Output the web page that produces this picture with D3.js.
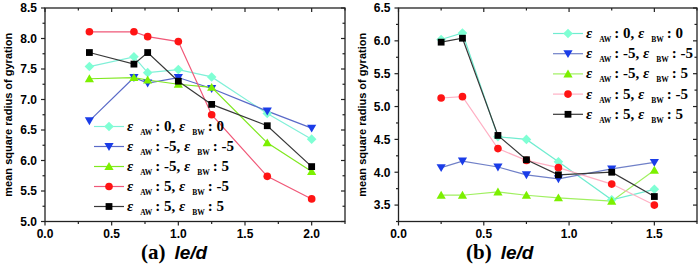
<!DOCTYPE html>
<html>
<head>
<meta charset="utf-8">
<script src="https://cdn.jsdelivr.net/npm/d3@7"></script>
<style>
  body { margin: 0; background: #fff; }
  svg { display: block; }
</style>
</head>
<body>
<svg id="chart" width="700" height="264"></svg>
<script>
// ---- data ----
const seriesNames = [
  ["0", "0"],
  ["-5", "-5"],
  ["-5", "5"],
  ["5", "-5"],
  ["5", "5"]
];
const xA = [0.333, 0.667, 0.77, 1.0, 1.25, 1.667, 2.0];
const cyanA  = [7.54, 7.70, 7.44, 7.49, 7.37, 6.77, 6.35];
const blueA  = [6.65, 7.36, 7.27, 7.36, 7.18, 6.81, 6.53];
const greenA = [7.34, 7.36, 7.32, 7.25, 7.20, 6.29, 5.82];
const redA   = [8.11, 8.11, 8.03, 7.95, 6.75, 5.74, 5.37];
const blackA = [7.77, 7.58, 7.77, 7.30, 6.92, 6.57, 5.90];

const xB = [0.25, 0.375, 0.583, 0.75, 0.9375, 1.25, 1.5];
const cyanB  = [6.02, 6.12, 4.54, 4.50, 4.16, 3.58, 3.74];
const blueB  = [4.07, 4.17, 4.08, 3.96, 3.90, 4.05, 4.15];
const greenB = [3.65, 3.65, 3.70, 3.65, 3.61, 3.56, 4.03];
const redB   = [5.13, 5.15, 4.36, 4.18, 4.07, 3.82, 3.50];
const blackB = [5.98, 6.04, 4.56, 4.19, 3.96, 4.00, 3.63];

const xTicksA = [0.0, 0.5, 1.0, 1.5, 2.0];
const yTicksA = [5.0, 5.5, 6.0, 6.5, 7.0, 7.5, 8.0, 8.5];
const xTicksB = [0.0, 0.5, 1.0, 1.5];
const yTicksB = [3.5, 4.0, 4.5, 5.0, 5.5, 6.0, 6.5];

const markers = ["diamond", "down", "up", "circle", "square"];
const markerFill = ["#7fffd4", "#1a3ce8", "#7cf000", "#ff1414", "#000000"];
const lineColA = ["#80f0d8", "#5a6ac8", "#80e820", "#f05878", "#383838"];
const lineColB = ["#70ecd0", "#7080c8", "#a0f060", "#ffb0c4", "#383838"];

const svg = d3.select("#chart");

function markerPath(type) {
  if (type === "diamond") return "M0,-4.8L4.8,0L0,4.8L-4.8,0Z";
  if (type === "down") return "M-4.6,-3.5L4.6,-3.5L0,4.4Z";
  if (type === "up") return "M-4.6,3.5L4.6,3.5L0,-4.4Z";
  if (type === "square") return "M-3.4,-3.4L3.4,-3.4L3.4,3.4L-3.4,3.4Z";
  return d3.symbol().type(d3.symbolCircle).size(46)();
}

function panel(cfg) {
  const x = d3.scaleLinear().domain(cfg.xDomain).range([cfg.left, cfg.right]);
  const y = d3.scaleLinear().domain(cfg.yDomain).range([cfg.bottom, cfg.top]);
  const g = svg.append("g");

  const minorX = d3.range(cfg.xDomain[0], cfg.xDomain[1] + 0.001, 0.25);
  const minorY = d3.range(cfg.yDomain[0], cfg.yDomain[1] + 0.001, 0.25);
  const isMajor = (v, list) => list.some(t => Math.abs(t - v) < 1e-6);

  // frame
  g.append("rect")
    .attr("x", cfg.left).attr("y", cfg.top)
    .attr("width", cfg.right - cfg.left).attr("height", cfg.bottom - cfg.top)
    .attr("fill", "none").attr("stroke", "#222").attr("stroke-width", 1.3);

  // ticks
  minorX.forEach(v => {
    const L = isMajor(v, cfg.xTicks) ? 4 : 2.5;
    g.append("line").attr("x1", x(v)).attr("x2", x(v))
      .attr("y1", cfg.bottom).attr("y2", cfg.bottom + L)
      .attr("stroke", "#222").attr("stroke-width", 1.2);
    g.append("line").attr("x1", x(v)).attr("x2", x(v))
      .attr("y1", cfg.top).attr("y2", cfg.top + L)
      .attr("stroke", "#222").attr("stroke-width", 1.2);
  });
  minorY.forEach(v => {
    const L = isMajor(v, cfg.yTicks) ? 4 : 2.5;
    g.append("line").attr("y1", y(v)).attr("y2", y(v))
      .attr("x1", cfg.left).attr("x2", cfg.left - L)
      .attr("stroke", "#222").attr("stroke-width", 1.2);
    g.append("line").attr("y1", y(v)).attr("y2", y(v))
      .attr("x1", cfg.right).attr("x2", cfg.right - L)
      .attr("stroke", "#222").attr("stroke-width", 1.2);
  });

  // tick labels
  g.selectAll(".xl").data(cfg.xTicks).enter().append("text")
    .attr("x", d => x(d)).attr("y", cfg.bottom + 16)
    .attr("text-anchor", "middle")
    .attr("font-family", "Liberation Sans, Arial, sans-serif")
    .attr("font-weight", "bold").attr("font-size", 12)
    .text(d => d.toFixed(1));
  g.selectAll(".yl").data(cfg.yTicks).enter().append("text")
    .attr("x", cfg.left - 8).attr("y", d => y(d) + 4.3)
    .attr("text-anchor", "end")
    .attr("font-family", "Liberation Sans, Arial, sans-serif")
    .attr("font-weight", "bold").attr("font-size", 12)
    .text(d => d.toFixed(1));

  // y title
  g.append("text")
    .attr("transform", `translate(${cfg.left - 33},${(cfg.top + cfg.bottom) / 2}) rotate(-90)`)
    .attr("text-anchor", "middle")
    .attr("font-family", "Liberation Sans, Arial, sans-serif")
    .attr("font-weight", "bold").attr("font-size", 11)
    .text("mean square radius of gyration");

  // x title
  const xt = g.append("text")
    .attr("x", cfg.titleX).attr("y", 259);
  xt.append("tspan")
    .attr("font-family", "Liberation Serif, Times New Roman, serif")
    .attr("font-weight", "bold").attr("font-size", 21)
    .text(cfg.label);
  xt.append("tspan").attr("dx", 9)
    .attr("font-family", "Liberation Sans, Arial, sans-serif")
    .attr("font-style", "italic").attr("font-weight", "bold").attr("font-size", 19)
    .text("le/d");

  // series
  const line = d3.line().x(d => x(d[0])).y(d => y(d[1]));
  cfg.series.forEach((vals, i) => {
    const pts = cfg.xs.map((xv, j) => [xv, vals[j]]);
    g.append("path").datum(pts)
      .attr("fill", "none").attr("stroke", cfg.lineCols[i]).attr("stroke-width", 1.2)
      .attr("d", line);
  });
  cfg.series.forEach((vals, i) => {
    const pts = cfg.xs.map((xv, j) => [xv, vals[j]]);
    g.selectAll(null).data(pts).enter().append("path")
      .attr("transform", d => `translate(${x(d[0])},${y(d[1])})`)
      .attr("d", markerPath(markers[i]))
      .attr("fill", markerFill[i]);
  });

  // legend
  seriesNames.forEach((nm, i) => {
    const ly = cfg.legY + i * cfg.legStep;
    const lx = cfg.legX;
    g.append("line").attr("x1", lx).attr("x2", lx + 30)
      .attr("y1", ly).attr("y2", ly)
      .attr("stroke", cfg.lineCols[i]).attr("stroke-width", 1.2);
    g.append("path").attr("transform", `translate(${lx + 15},${ly})`)
      .attr("d", markerPath(markers[i])).attr("fill", markerFill[i]);
    const t = g.append("text").attr("x", lx + 33).attr("y", ly + 4.5)
      .attr("font-family", "Liberation Serif, Times New Roman, serif")
      .attr("font-weight", "bold").attr("font-size", 15);
    t.append("tspan").attr("font-style", "italic").text("ε");
    t.append("tspan").attr("dx", 7).attr("dy", 4).attr("font-size", 7.5).text("AW");
    t.append("tspan").attr("dx", 3).attr("dy", -4).text(": " + nm[0] + ", ");
    t.append("tspan").attr("font-style", "italic").text("ε");
    t.append("tspan").attr("dx", 7).attr("dy", 4).attr("font-size", 7.5).text("BW");
    t.append("tspan").attr("dx", 3).attr("dy", -4).text(": " + nm[1]);
  });
}

panel({
  left: 45, right: 345, top: 8, bottom: 221.5,
  xDomain: [0, 2.25], yDomain: [5.0, 8.5],
  xTicks: xTicksA, yTicks: yTicksA,
  xs: xA, series: [cyanA, blueA, greenA, redA, blackA],
  lineCols: lineColA,
  legX: 94, legY: 126.5, legStep: 20,
  label: "(a)", titleX: 141
});

panel({
  left: 398.5, right: 697, top: 8, bottom: 221.5,
  xDomain: [0, 1.75], yDomain: [3.25, 6.5],
  xTicks: xTicksB, yTicks: yTicksB,
  xs: xB, series: [cyanB, blueB, greenB, redB, blackB],
  lineCols: lineColB,
  legX: 553, legY: 33.5, legStep: 20.2,
  label: "(b)", titleX: 466
});
</script>
</body>
</html>
